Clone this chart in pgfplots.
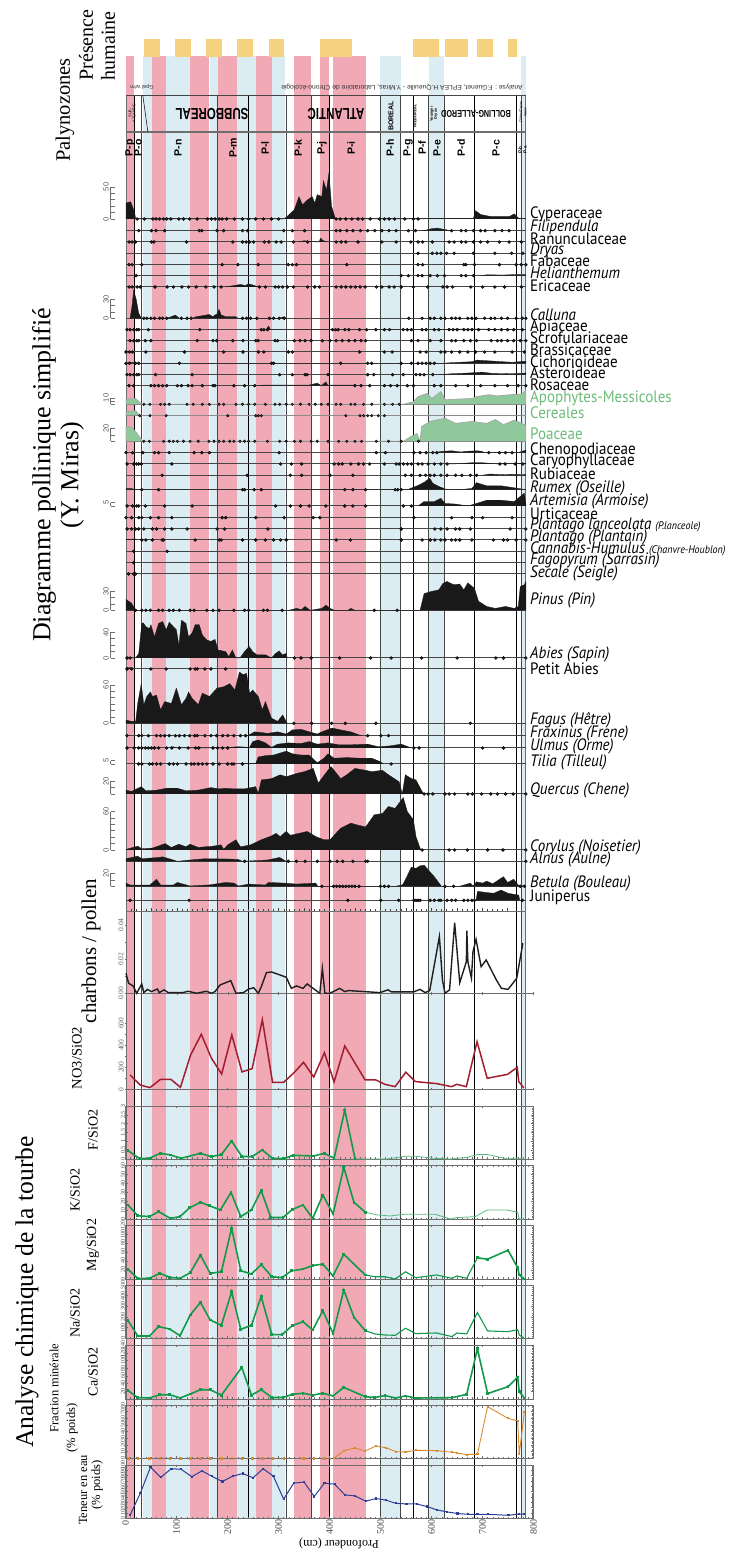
\documentclass[border=0pt]{standalone}
\usepackage{pgfplots}
\usepackage{fontspec}
\pgfplotsset{compat=1.18}
\setmainfont{Liberation Serif}
\newfontfamily\lab[FakeStretch=0.91]{PT Sans}
\newfontfamily\cnd[FakeStretch=0.72]{Liberation Sans}
\newfontfamily\hv{Liberation Sans}
\definecolor{pk}{HTML}{F0A9B5}
\definecolor{bl}{HTML}{DCECF3}
\definecolor{yl}{HTML}{F4D27F}
\definecolor{gr}{HTML}{8FC89B}
\definecolor{grt}{HTML}{6DBB79}
\definecolor{gc}{HTML}{129A4A}
\definecolor{rd}{HTML}{A21E2E}
\definecolor{og}{HTML}{D98A2E}
\definecolor{nv}{HTML}{2E3F97}
\definecolor{ln}{HTML}{454545}
\definecolor{fr}{HTML}{6E6E6E}
\pgfplotsset{
 pbase/.style={anchor=south west,width=407pt,height=64pt,scale only axis,xmin=0,xmax=800,ymin=0,ymax=100,hide axis,clip=false},
 chem/.style={anchor=south west,width=408pt,scale only axis,xmin=0,xmax=800,clip=false,
   axis line style={fr,line width=0.9pt},tick style={fr,line width=0.4pt},
   xtick={0,100,...,800},xticklabels={},minor x tick num=9,minor y tick num=4,
   major tick length=2.5pt,minor tick length=1.5pt,tick align=inside,
   yticklabel style={rotate=90,font=\fontsize{6}{6}\selectfont,inner sep=0.3pt,anchor=south,text=black!70},
   /pgf/number format/assume math mode=true,/pgf/number format/1000 sep={}},
 thick1/.style={gc,line width=1.6pt,mark=square*,mark size=0.6pt},
 thin1/.style={gc!70!white,line width=0.8pt}
}
\newcommand{\T}[4]{\node[inner sep=0pt,#3] at (#1pt,{(1552-#2)*1pt}) {#4};}
\newcommand{\band}[5]{\addplot[fill=#1,draw=none] coordinates {(#2,#4)(#3,#4)(#3,#5)(#2,#5)};}
\newcommand{\vl}[2]{\addplot[#2] coordinates {(#1,95)(#1,1518)};}
% Y0, area, dots
\newcommand{\pol}[3]{\pgfmathsetmacro\yy{1552-#1}
 \begin{axis}[pbase,at={(126pt,\yy pt)}]
 \addplot[ln,line width=1pt] coordinates {(0,0)(786,0)};
 \addplot[fill=black!90,draw=black!90,line width=0.3pt] coordinates {#2};
 \addplot[only marks,mark=*,mark size=1.5pt,mark options={fill=black!85,draw=none}] coordinates {#3};
 \end{axis}}
\newcommand{\pold}[2]{\pgfmathsetmacro\yy{1552-#1}
 \begin{axis}[pbase,at={(126pt,\yy pt)}]
 \addplot[ln,line width=1pt] coordinates {(0,0)(786,0)};
 \addplot[only marks,mark=*,mark size=1.5pt,mark options={fill=black!85,draw=none}] coordinates {#2};
 \end{axis}}
\newcommand{\polg}[3]{\pgfmathsetmacro\yy{1552-#1}
 \begin{axis}[pbase,at={(126pt,\yy pt)}]
 \addplot[fill=gr,draw=black!35,line width=0.7pt] coordinates {#2};
 \addplot[black!45,line width=1pt] coordinates {(0,0)(786,0)};
 \addplot[only marks,mark=*,mark size=1.3pt,mark options={fill=black!75,draw=none}] coordinates {#3};
 \end{axis}}
% scale: Y0,max,step,zero label
\newcommand{\sca}[4]{\pgfmathsetmacro\ya{1552-#1}\pgfmathsetmacro\yb{\ya+#2*0.64}
 \draw[fr,line width=0.6pt] (110.5pt,\ya pt)--(110.5pt,\yb pt);
 \foreach \v in {0,#3,...,#2}{\pgfmathsetmacro\yc{\ya+\v*0.64}\draw[fr,line width=0.6pt] (110.5pt,\yc pt)--(114.5pt,\yc pt);}
 \node[rotate=90,font=\fontsize{7.5}{7.5}\selectfont\hv,text=black!65,inner sep=0] at (106pt,\yb pt) {#2};
 \node[rotate=90,font=\fontsize{7.5}{7.5}\selectfont\hv,text=black!65,inner sep=0] at (106pt,\ya pt) {#4};}
\begin{document}
\begin{tikzpicture}
\useasboundingbox (0,0) rectangle (752pt,1552pt);
\begin{axis}[at={(126pt,0pt)},anchor=south west,width=407pt,height=1552pt,scale only axis,
 xmin=0,xmax=800,ymin=0,ymax=1552,y dir=reverse,hide axis,clip=false]
\band{pk}{0}{16}{56}{1518}
\band{bl}{33}{52}{56}{1518}
\band{pk}{52}{78}{56}{1518}
\band{bl}{78}{126}{56}{1518}
\band{pk}{126}{164}{56}{1518}
\band{bl}{165}{180}{56}{1518}
\band{pk}{180}{218}{56}{1518}
\band{bl}{219}{255}{56}{1518}
\band{pk}{255}{286}{56}{1518}
\band{bl}{286}{312}{56}{1518}
\band{pk}{330}{363}{56}{1518}
\band{pk}{381}{399}{56}{1518}
\band{pk}{407}{471}{56}{1518}
\band{bl}{500}{540}{56}{1518}
\band{bl}{595}{625}{56}{1518}
\band{bl}{776}{787}{56}{1518}
\band{yl}{35}{66}{39}{57}
\band{yl}{97}{128}{39}{57}
\band{yl}{157}{189}{39}{57}
\band{yl}{219}{250}{39}{57}
\band{yl}{281}{310}{39}{57}
\band{yl}{381}{444}{39}{57}
\band{yl}{565}{615}{39}{57}
\band{yl}{628}{673}{39}{57}
\band{yl}{690}{721}{39}{57}
\band{yl}{750}{769}{39}{57}
\vl{16}{black,line width=0.7pt}
\vl{31}{ln,line width=0.9pt}
\vl{180}{ln,line width=0.9pt}
\vl{240}{black,line width=0.7pt}
\vl{316}{ln,line width=0.9pt}
\vl{365}{ln,line width=0.9pt}
\vl{400}{black,line width=0.7pt}
\vl{500}{ln,line width=0.9pt}
\vl{540}{ln,line width=0.9pt}
\vl{565}{black,line width=0.7pt}
\vl{595}{ln,line width=0.9pt}
\vl{625}{ln,line width=0.9pt}
\vl{685}{black,line width=0.7pt}
\vl{768}{black,line width=0.7pt}
\vl{777}{ln,line width=0.8pt}
\vl{786}{fr,line width=1.1pt}
\vl{0}{fr,line width=1pt}
\addplot[ln,line width=0.9pt] coordinates {(0,95)(786,95)};
\addplot[fr,line width=1.2pt] coordinates {(0,132)(786,132)};
\addplot[black,line width=0.5pt] coordinates {(33,95)(43,132)};
\end{axis}
%% pollen
\pol{219}{(0,0)(0,25)(9,27)(17,10)(19,0)(310,0)(317,4)(331,15)(340,35)(347,22)(357,30)(366,35)(371,25)(376,38)(385,35)(388,60)(394,45)(399,72)(404,20)(411,2)(414,0)(585,0)(593,1)(683,1)(687,13)(697,7)(716,4)(754,4)(763,8)(772,1)(786,0)}{(22,0)(36,0)(53,0)(59,0)(66,0)(74,0)(80,0)(88,0)(104,0)(113,0)(125,0)(140,0)(160,0)(168,0)(175,0)(183,0)(189,0)(198,0)(213,0)(229,0)(241,0)(255,0)(270,0)(286,0)(300,0)(413,0)(421,0)(432,0)(444,0)(456,0)(465,0)(480,0)(498,0)(508,0)(517,0)(528,0)(548,0)(565,0)(574,0)}
\pol{230.7}{(580,0)(590,1)(600,3)(612,4)(625,2)(640,0)}{(25,0)(50,0)(59,0)(76,0)(144,0)(149,0)(179,0)(192,0)(229,0)(239,0)(310,0)(327,0)(351,0)(413,0)(421,0)(434,0)(446,0)(461,0)(475,0)(489,0)(503,0)(517,0)(531,0)(555,0)(569,0)(640,0)(659,0)(668,0)(683,0)(697,0)(706,0)(725,0)(739,0)(753,0)}
\pol{242}{(340,0)(350,2)(360,1)(375,0)(380,0)(382,6)(388,2)(395,0)}{(6,0)(12,0)(19,0)(50,0)(55,0)(119,0)(210,0)(229,0)(236,0)(243,0)(251,0)(272,0)(281,0)(295,0)(305,0)(329,0)(357,0)(413,0)(423,0)(432,0)(456,0)(503,0)(531,0)(560,0)(574,0)(583,0)(602,0)(635,0)(645,0)(659,0)(668,0)(683,0)(697,0)(711,0)(734,0)(753,0)(777,0)}
\pold{253.3}{(574,0)(602,0)(611,0)(619,0)(630,0)(645,0)(683,0)(725,0)(758,0)(780,0)}
\pold{264.7}{(6,0)(12,0)(31,0)(189,0)(220,0)(260,0)(319,0)(327,0)(335,0)(434,0)(574,0)(583,0)(664,0)(668,0)(685,0)(734,0)(767,0)(777,0)(786,0)}
\pol{275.7}{(697,0)(710,1.5)(740,1)(770,2)(786,1.5)(786,0)}{(20,0)(541,0)(555,0)(574,0)(582,0)(598,0)(612,0)(626,0)(659,0)(668,0)(683,0)}
\pol{287}{(195,0)(210,2)(225,4)(235,2)(240,5)(250,3)(260,0)}{(6,0)(12,0)(22,0)(28,0)(57,0)(81,0)(93,0)(110,0)(123,0)(138,0)(157,0)(173,0)(187,0)(262,0)(274,0)(293,0)(300,0)(308,0)(317,0)(329,0)(357,0)(371,0)(380,0)(413,0)(423,0)(432,0)(442,0)(451,0)(460,0)(470,0)(492,0)(503,0)(517,0)(527,0)(541,0)(565,0)(593,0)(623,0)(631,0)(642,0)(678,0)(701,0)(725,0)(744,0)(777,0)}
\pol{318.3}{(8,0)(12,20)(15,44)(20,30)(25,8)(30,0)(80,0)(89,2.5)(97,5)(105,0)(130,0)(138,2.5)(150,4)(164,6)(170,2.5)(179,7)(183,14)(187,5)(196,2.5)(216,2.5)(220,0)(300,0)(311,2.5)(315,0)}{(35,0)(41,0)(49,0)(56,0)(66,0)(72,0)(80,0)(109,0)(120,0)(128,0)(229,0)(237,0)(245,0)(257,0)(282,0)(290,0)(301,0)(311,0)(556,0)(582,0)(598,0)(606,0)(619,0)(627,0)(640,0)(648,0)(656,0)(672,0)(680,0)(688,0)(705,0)(717,0)(725,0)(738,0)(750,0)(767,0)(779,0)(786,0)}
\pol{329.7}{(276,0)(280,6)(284,0)(606,0)(640,1)(700,1)(786,0)}{(2,0)(8,0)(15,0)(21,0)(25,0)(44,0)(145,0)(266,0)(271,0)(278,0)(406,0)(412,0)(417,0)(430,0)(438,0)(459,0)(473,0)(491,0)(508,0)(518,0)(545,0)(553,0)(561,0)(582,0)(590,0)(606,0)(615,0)(635,0)(643,0)(651,0)(664,0)(672,0)(680,0)(693,0)(713,0)(725,0)(738,0)(750,0)(762,0)(779,0)}
\pold{340.7}{(8,0)(15,0)(21,0)(25,0)(38,0)(49,0)(140,0)(171,0)(178,0)(210,0)(230,0)(255,0)(260,0)(293,0)(298,0)(331,0)(342,0)(352,0)(364,0)(386,0)(401,0)(413,0)(425,0)(438,0)(450,0)(462,0)(471,0)(561,0)(574,0)(598,0)(619,0)(640,0)(648,0)(664,0)(677,0)(689,0)(718,0)(730,0)(738,0)(750,0)(762,0)(775,0)(786,0)}
\pold{352}{(0,0)(7,0)(13,0)(39,0)(115,0)(192,0)(230,0)(260,0)(271,0)(319,0)(327,0)(459,0)(508,0)(523,0)(578,0)(590,0)(619,0)(627,0)(640,0)(656,0)(672,0)(687,0)(705,0)(725,0)(759,0)(783,0)}
\pol{363.3}{(0,0)(5,1)(15,1)(20,0)(620,0)(640,1)(680,2.5)(690,5)(710,4)(740,2.5)(760,1.5)(780,3)(786,3)(786,0)}{(0,0)(7,0)(19,0)(25,0)(105,0)(286,0)(290,0)(422,0)(475,0)(483,0)(541,0)(561,0)(574,0)(582,0)(590,0)(598,0)(606,0)}
\pol{374.7}{(615,0)(640,1.5)(670,2.5)(700,4)(720,2)(760,1.5)(786,2.5)(786,0)}{(2,0)(8,0)(15,0)(21,0)(25,0)(58,0)(130,0)(302,0)(327,0)(352,0)(356,0)(397,0)(475,0)(487,0)(524,0)(545,0)(570,0)(578,0)(586,0)(603,0)}
\pol{385.7}{(260,0)(270,1)(340,1)(360,1)(376,4)(384,0)(393,6)(397,0)(400,1)(450,1)(455,0)}{(6,0)(15,0)(49,0)(56,0)(64,0)(72,0)(80,0)(101,0)(109,0)(122,0)(130,0)(150,0)(171,0)(175,0)(212,0)(233,0)(253,0)(450,0)(462,0)(479,0)(508,0)(520,0)(533,0)(553,0)(565,0)(606,0)(619,0)(648,0)(672,0)(697,0)(725,0)(750,0)(771,0)(786,0)}
\polg{404.3}{(0,0)(0,8)(19,9)(31,0)(545,0)(565,4)(574,12)(592,17)(601,9)(619,20)(627,7)(648,8)(680,9)(689,12)(713,15)(730,13)(755,15)(779,16)(786,22)(786,0)}{(35,0)(47,0)(68,0)(76,0)(85,0)(120,0)(132,0)(150,0)(164,0)(183,0)(192,0)(216,0)(229,0)(241,0)(253,0)(274,0)(293,0)(302,0)(315,0)(327,0)(343,0)(360,0)(372,0)(384,0)(397,0)(413,0)(422,0)(442,0)(450,0)(467,0)(483,0)(508,0)(524,0)(537,0)}
\polg{415.7}{(0,0)(0,6)(19,8)(27,0)}{(27,0)(47,0)(79,0)(200,0)(255,0)(260,0)(266,0)(432,0)(460,0)(467,0)(475,0)(483,0)(496,0)(508,0)}
\polg{441.3}{(0,0)(0,23)(11,22)(19,15)(31,2)(35,0)(545,0)(561,8)(572,12)(578,0)(581,23)(598,31)(627,36)(648,28)(680,31)(709,28)(726,34)(742,26)(763,33)(786,25)(786,0)}{(35,0)(46,0)(74,0)(85,0)(93,0)(101,0)(113,0)(126,0)(142,0)(163,0)(173,0)(183,0)(192,0)(204,0)(212,0)(224,0)(233,0)(241,0)(253,0)(278,0)(302,0)(315,0)(331,0)(343,0)(364,0)(376,0)(397,0)(418,0)(434,0)(450,0)(463,0)(492,0)(516,0)(541,0)(575,0)}
\pol{452.7}{(606,0)(620,2)(640,3)(660,1)(665,2)(690,3)(700,2)(705,0)(770,0)(786,4)(786,0)}{(0,0)(13,0)(33,0)(56,0)(64,0)(85,0)(134,0)(149,0)(164,0)(301,0)(492,0)(510,0)(566,0)(578,0)(590,0)(603,0)(611,0)(713,0)(734,0)(746,0)(759,0)}
\pol{464}{(631,0)(645,0)(680,2)(700,2)(730,0)(786,1)(786,0)}{(2,0)(15,0)(21,0)(25,0)(30,0)(90,0)(304,0)(325,0)(345,0)(409,0)(418,0)(425,0)(442,0)(457,0)(467,0)(479,0)(508,0)(531,0)(537,0)(545,0)(553,0)(561,0)(574,0)(582,0)(594,0)(606,0)(619,0)(631,0)(735,0)(745,0)(765,0)(780,0)}
\pol{475.3}{(700,0)(715,2)(740,1)(760,1.5)(785,1)(786,0)}{(71,0)(238,0)(323,0)(345,0)(401,0)(446,0)(549,0)(561,0)(578,0)(589,0)(598,0)(606,0)(619,0)(631,0)(648,0)(660,0)(677,0)(689,0)}
\pol{489.7}{(0,0)(0,2)(10,2)(19,0)(553,0)(575,7)(587,12)(597,18)(603,10)(615,5)(631,0)(656,0)(680,2)(689,11)(709,6)(738,6)(771,2)(786,0)}{(31,0)(64,0)(229,0)(233,0)(252,0)(266,0)(430,0)(446,0)(471,0)(529,0)(534,0)(541,0)}
\pol{506}{(574,0)(586,7)(606,7)(619,12)(627,4)(648,3)(672,0)(689,4)(709,9)(738,9)(763,7)(775,15)(783,20)(786,4)(786,0)}{(2,0)(13,0)(21,0)(25,0)(38,0)(76,0)(130,0)(294,0)(323,0)(343,0)(360,0)(393,0)(430,0)(446,0)(471,0)(545,0)(561,0)}
\pold{517.7}{(0,0)(11,0)(25,0)(31,0)(48,0)(64,0)(90,0)(189,0)(196,0)(255,0)(311,0)(368,0)(381,0)(566,0)(640,0)(680,0)(701,0)(759,0)}
\pold{529}{(2,0)(11,0)(19,0)(25,0)(35,0)(52,0)(60,0)(76,0)(90,0)(120,0)(179,0)(194,0)(279,0)(541,0)(607,0)(619,0)(631,0)(648,0)(656,0)(677,0)(755,0)(786,0)}
\pol{540}{(0,0)(0,1)(20,1.5)(22,0)}{(31,0)(39,0)(52,0)(71,0)(74,0)(136,0)(183,0)(187,0)(229,0)(255,0)(274,0)(290,0)(304,0)(315,0)(413,0)(441,0)(541,0)(582,0)(598,0)(607,0)(619,0)(627,0)(640,0)(648,0)(656,0)(680,0)(722,0)(742,0)(750,0)(767,0)(786,0)}
\pold{551.3}{(15,0)(81,0)}
\pold{562.7}{(15,0)}
\pold{574}{(5,0)(15,0)(19,0)}
\pol{610.3}{(0,0)(0,17)(11,11)(19,0)(320,0)(335,3)(345,1)(352,6)(362,0)(385,3)(393,8)(401,3)(410,0)(436,0)(442,3)(450,0)(570,0)(578,0)(586,26)(598,29)(615,32)(623,42)(631,45)(644,40)(656,41)(664,32)(672,43)(685,34)(693,14)(709,6)(726,3)(746,6)(763,3)(771,6)(775,37)(783,40)(786,45)(786,0)}{(19,0)(31,0)(39,0)(48,0)(64,0)(72,0)(85,0)(93,0)(105,0)(126,0)(134,0)(159,0)(171,0)(183,0)(212,0)(233,0)(241,0)(270,0)(278,0)(307,0)(488,0)(533,0)}
\pol{658}{(0,0)(19,0)(25,7)(31,54)(34,55)(39,49)(46,46)(49,52)(56,33)(64,54)(72,57)(79,44)(85,56)(93,49)(99,44)(104,20)(109,59)(118,54)(123,33)(130,39)(136,52)(144,52)(150,36)(159,28)(167,26)(175,29)(181,12.5)(196,10)(202,2)(209,12.5)(216,0)(224,0)(233,10)(242,18)(249,10)(257,5)(274,5)(286,0)(294,7)(301,11)(307,5)(315,7)(317,0)}{(2,0)(8,0)(331,0)(344,0)(364,0)(420,0)(481,0)(521,0)(581,0)(651,0)(727,0)(742,0)(786,0)}
\pol{669}{(0,0)(0,2)(12,2)(14,0)}{(2,0)(11,0)(49,0)(79,0)(126,0)(136,0)(140,0)(155,0)(167,0)(196,0)}
\pol{723.3}{(0,0)(0,5)(11,3)(19,3)(23,31)(30,62)(35,29)(41,42)(48,49)(52,42)(60,44)(68,21)(76,34)(89,31)(99,55)(109,29)(118,39)(123,49)(130,39)(142,29)(150,47)(164,42)(179,55)(192,57)(204,62)(214,52)(223,80)(230,76)(237,78)(243,47)(249,52)(260,42)(268,21)(274,34)(286,8)(298,3)(308,13)(316,1)(318,0)}{(330,0)(365,0)(404,0)(431,0)(491,0)(677,0)}
\pol{735.7}{(235,0)(241,1)(253,6)(266,5)(278,3.6)(298,6)(315,2.6)(327,9)(344,10)(356,7)(376,2.6)(385,6)(405,12)(422,9)(442,6)(459,1)(465,0)}{(2,0)(25,0)(31,0)(44,0)(60,0)(68,0)(76,0)(85,0)(97,0)(105,0)(115,0)(125,0)(135,0)(140,0)(155,0)(167,0)(178,0)(190,0)(200,0)(212,0)(225,0)(235,0)(475,0)(501,0)(516,0)}
\pol{748}{(88,0)(93,2)(100,0)(200,0)(204,1)(220,2)(243,1)(249,10)(260,12.5)(274,8)(286,1)(298,6)(319,8)(344,7)(360,10)(376,6)(397,8)(418,5)(442,5)(475,6)(496,2)(516,3)(541,6)(561,0)}{(2,0)(16,0)(25,0)(31,0)(38,0)(44,0)(50,0)(56,0)(64,0)(80,0)(90,0)(105,0)(122,0)(137,0)(143,0)(171,0)(180,0)(190,0)(200,0)(566,0)(576,0)(701,0)(742,0)}
\pol{764}{(225,0)(229,1)(255,1)(260,11)(274,13)(290,14)(315,20)(327,16)(344,14)(360,14)(376,2)(389,9)(397,16)(409,9)(434,10)(459,9)(483,9)(500,3.6)(506,0)}{(25,0)(31,0)(46,0)(52,0)(60,0)(68,0)(85,0)(93,0)(101,0)(118,0)(128,0)(134,0)(142,0)(150,0)(159,0)(171,0)(183,0)(200,0)(208,0)(212,0)(229,0)(521,0)}
\pol{794}{(0,0)(0,6)(11,4)(30,11.5)(39,5)(60,6)(80,9)(101,9)(118,5)(142,6)(167,10)(183,8)(196,9)(212,8)(233,8)(255,11.5)(260,1)(266,22)(286,24)(303,30)(315,27)(335,32)(351,35)(368,40)(378,17)(392,32)(403,43)(422,24)(434,30)(450,40)(471,37)(483,35)(504,37)(516,30)(537,19)(543,0)(549,30)(561,24)(570,22)(582,4)(586,0)}{(586,0)(594,0)(603,0)(627,0)(635,0)(646,0)(672,0)(681,0)(699,0)(717,0)(730,0)(746,0)(761,0)(786,0)}
\pol{850}{(0,0)(0,1)(23,6)(31,2)(52,3)(77,10)(89,4)(104,9)(118,5)(126,9)(142,4)(171,6)(187,8)(192,1)(200,8)(216,16)(225,5)(245,8)(266,16)(286,22)(295,26)(303,21)(315,29)(323,23)(340,26)(356,29)(373,21)(389,16)(401,16)(422,34)(442,42)(455,39)(471,36)(488,55)(504,57)(516,68)(529,65)(545,82)(553,60)(565,47)(570,21)(578,3)(580,0)}{(582,0)(635,0)(646,0)(671,0)(711,0)(741,0)(786,0)}
\pol{861.3}{(0,0)(0,4)(23,8)(31,4)(64,6)(72,7)(89,3)(101,0)(126,2)(155,4)(196,3.6)(220,3)(229,0)(278,2)(302,6)(315,0)}{(233,0)(319,0)(335,0)(352,0)(376,0)(401,0)(415,0)(426,0)(446,0)(471,0)(475,0)(786,0)}
\pol{886.3}{(0,0)(0,5)(8,2)(31,2)(47,2)(60,11)(68,2)(93,2)(101,6)(126,0.5)(146,1.5)(162,2)(196,6)(212,5)(221,0.5)(241,3.5)(274,2)(280,6)(311,5)(335,3.5)(373,5)(377,0)(530,0)(544,2.5)(552,15)(561,30)(570,28)(578,32)(586,33)(606,15)(620,0)(655,0)(664,2)(677,5)(682,0.5)(689,7)(701,5)(709,8)(721,4)(742,15)(750,6)(762,11)(771,2)(786,0)}{(385,0)(408,0)(414,0)(420,0)(426,0)(432,0)(438,0)(444,0)(450,0)(458,0)(500,0)(508,0)(516,0)(627,0)(644,0)(775,0)(783,0)}
\pol{900.3}{(688,0)(691,14)(710,12)(723,11)(737,16)(751,11)(772,8)(774,0)}{(8,0)(124,0)(436,0)(501,0)(536,0)(566,0)(570,0)(574,0)(578,0)(598,0)(606,0)(615,0)(619,0)(631,0)(640,0)(648,0)(664,0)(672,0)(680,0)(685,0)(779,0)}
%% pollen scales
\sca{219}{50}{10}{0}
\sca{318.3}{30}{10}{0}
\sca{404.3}{10}{5}{}
\sca{441.3}{20}{10}{}
\sca{506}{5}{5}{}
\sca{610.3}{30}{10}{0}
\sca{658}{40}{10}{0}
\sca{723.3}{60}{10}{0}
\sca{764}{5}{5}{}
\sca{794}{20}{10}{}
\sca{850}{60}{10}{0}
\sca{886.3}{20}{10}{}
%% ruler
\begin{axis}[at={(126pt,640pt)},anchor=south west,width=400pt,height=10pt,scale only axis,
 xmin=0,xmax=786,ymin=0,ymax=1,axis x line=bottom,axis y line=none,xtick={0,50,...,750},minor x tick num=4,
 xticklabels={},tick align=inside,major tick length=4pt,minor tick length=2.5pt,
 axis line style={-,fr,line width=1pt},tick style={ln,line width=0.4pt}]
\end{axis}
%% charbons
\begin{axis}[at={(126pt,558.7pt)},anchor=south west,width=407pt,height=85.4pt,scale only axis,
 xmin=0,xmax=800,ymin=0,ymax=0.05,clip=false,axis x line=bottom,axis y line=left,
 axis line style={-,fr,line width=0.9pt},tick style={fr,line width=0.4pt},major tick length=2.5pt,
 xtick={0,100,...,800},xticklabels={},ytick={0,0.02,0.04},minor y tick num=1,
 yticklabel style={rotate=90,font=\fontsize{7.5}{7.5}\selectfont,anchor=south,text=black!60,inner sep=1pt,/pgf/number format/fixed,/pgf/number format/fixed zerofill,/pgf/number format/precision=2},
 scaled y ticks=false,/pgf/number format/assume math mode=true]
\addplot[black!88,line width=1.4pt] coordinates {(0,.0117)(5,.0059)(14,.0043)(21,0)(31,.0055)(35,.0004)(42,.0023)(50,.001)(62,.0025)(65,.0004)(75,.002)(83,.0004)(112,.0004)(122,.0012)(139,0)(158,.0012)(168,0)(175,.001)(185,.0049)(206,.0074)(216,0)(231,.0004)(240,.0023)(251,.0033)(260,0)(266,.0039)(276,.0121)(286,.0125)(315,.0094)(325,.0029)(335,.0043)(348,.0029)(356,.0055)(381,0)(386,.0146)(391,0)(401,0)(420,.0029)(430,.001)(437,.0016)(499,.0004)(515,.002)(522,.0008)(565,.0008)(578,.0023)(588,.0004)(597,.0016)(616,.0332)(622,.0078)(627,0)(636,.002)(646,.0413)(656,.0062)(669,.0185)(670,.0367)(672,.0185)(679,.0088)(682,.0244)(688,.0316)(698,.0156)(708,.0195)(728,.0078)(738,.0029)(751,.0023)(768,.0088)(780,.0293)};
\end{axis}
%% NO3
\begin{axis}[at={(126pt,462.7pt)},anchor=south west,width=407pt,height=75pt,scale only axis,
 xmin=0,xmax=800,ymin=0,ymax=682,clip=false,axis x line=bottom,axis y line=left,
 axis line style={-,fr,line width=0.9pt},tick style={fr,line width=0.6pt},major tick length=2pt,
 xtick={0,100,...,800},xticklabels={},ytick={0,200,400,600},minor y tick num=1,
 yticklabel style={rotate=90,font=\fontsize{7.5}{7.5}\selectfont,anchor=south,text=black!60,inner sep=1pt},
 /pgf/number format/assume math mode=true]
\addplot[rd,line width=1.5pt] coordinates {(8,130)(28,39)(47,15)(68,91)(88,91)(107,18)(127,312)(148,500)(168,282)(188,139)(208,494)(228,158)(248,188)(268,633)(288,64)(310,64)(329,145)(349,245)(369,112)(390,333)(409,67)(430,394)(470,85)(491,85)(509,45)(529,24)(550,155)(569,70)(610,52)(640,24)(650,45)(669,24)(690,433)(710,100)(750,136)(769,200)(772,70)(782,12)};
\end{axis}
%% chem
\begin{axis}[chem,at={(125.5pt,393pt)},height=53pt,ymin=0,ymax=3,ytick={0,0.5,...,3}]
\addplot[thin1] coordinates {(450,.02)(473,0)(512,0)(548,.15)(571,.15)(604,.04)(637,0)(669,.09)(690,.25)(710,.25)(750,0)(769,.06)(782,0)};
\addplot[thick1] coordinates {(5,.47)(28,.02)(47,.04)(68,.32)(88,.23)(109,.04)(147,.32)(168,.13)(188,.25)(208,1.02)(228,.15)(248,.13)(268,.51)(288,.04)(310,.02)(329,.21)(369,.17)(390,.32)(409,.04)(430,2.77)(450,.02)};
\end{axis}
\begin{axis}[chem,at={(125.5pt,332.7pt)},height=53.6pt,ymin=0,ymax=60,ytick={0,10,...,60}]
\addplot[thin1] coordinates {(470,8)(492,5)(519,3.7)(545,5.6)(607,5.6)(637,.4)(650,1.9)(686,3)(709,10.4)(748,10.4)(769,7.8)(772,.4)(782,0)};
\addplot[thick1] coordinates {(5,16)(24,4)(47,3)(65,8.6)(88,1)(107,3)(126,13)(147,19)(165,15)(186,10.5)(207,30)(226,3)(247,10.5)(266,32)(285,2)(309,2)(327,11)(348,16)(367,1)(387,27)(407,6)(428,58)(448,19)(470,8)};
\end{axis}
\begin{axis}[chem,at={(125.5pt,273pt)},height=54pt,ymin=0,ymax=120,ytick={0,20,...,120}]
\addplot[gc,line width=1.1pt] coordinates {(470,9)(489,5)(509,5)(529,0)(549,16)(569,3)(610,9)(640,1.5)(650,6.7)(669,1.5)(690,47)};
\addplot[thick1] coordinates {(5,21.5)(24,1.5)(47,1.5)(67,12.6)(87,3.7)(107,1.5)(127,14)(147,53)(166,12.6)(188,16)(208,113)(226,18.5)(247,11)(266,32)(287,5)(307,3)(325,18)(348,22)(367,30)(387,33)(407,7)(428,55)(470,9)};
\addplot[thick1] coordinates {(690,47)(710,44)(750,64)(769,25)(772,9)(782,0)};
\end{axis}
\begin{axis}[chem,at={(125.5pt,213.7pt)},height=53.3pt,ymin=0,ymax=500,ytick={0,100,...,500}]
\addplot[gc,line width=1.1pt] coordinates {(470,72)(489,41)(509,31)(529,28)(549,94)(569,44)(610,50)(640,16)(650,50)(669,41)(690,241)(710,69)(750,62)(769,81)(772,31)(782,0)};
\addplot[thick1] coordinates {(5,166)(24,22)(47,22)(65,109)(86,88)(107,25)(127,219)(147,337)(166,172)(188,122)(208,437)(226,84)(247,122)(266,391)(287,34)(307,34)(327,119)(348,156)(367,78)(387,259)(407,44)(428,453)(448,197)(470,72)};
\end{axis}
\begin{axis}[chem,at={(125.5pt,153pt)},height=54pt,ymin=0,ymax=140,ytick={20,40,...,140}]
\addplot[thick1] coordinates {(5,22)(24,3.5)(47,2.6)(67,11)(87,11)(107,2.6)(127,13)(147,24)(166,24)(188,10)(228,82)(247,10)(266,24)(287,4)(309,4)(327,12)(348,15)(367,10)(387,15)(407,8)(428,30)(470,6)(489,4)(509,9)(529,2.6)(549,8)(569,2.6)(640,3.5)(669,12)(690,130)(710,14)(750,32)(769,57)(772,19)(782,2.6)};
\end{axis}
\begin{axis}[chem,at={(125.5pt,93.7pt)},height=53.3pt,ymin=0,ymax=80,ytick={0,10,...,80}]
\addplot[only marks,mark=square*,mark size=0.8pt,og] coordinates {(5,0)(24,0)(47,0)(67,0)(87,0)(107,0)(127,0)(147,0)(166,0)(188,0)(208,0)(228,0)(248,0)(268,0)(288,0)(310,0)(349,0)(369,0)(390,0)};
\addplot[og,line width=0.9pt,mark=square*,mark size=0.6pt] coordinates {(409,0)(428,11.5)(450,15.5)(470,11)(491,18.5)(510,16)(530,10)(549,9.5)(569,12)(610,11.5)(640,9)(650,8)(669,5.5)(690,6)(710,77.5)(750,60)(769,56)(772,6)(782,69)};
\end{axis}
\begin{axis}[chem,at={(125.5pt,33.7pt)},height=53.3pt,ymin=0,ymax=100,ytick={0,10,...,100},xticklabels={0,100,200,300,400,500,600,700,800},
 xticklabel style={rotate=90,anchor=east,font=\fontsize{10}{10}\selectfont,text=black!70,inner sep=1.5pt}]
\addplot[nv,line width=1pt,mark=square*,mark size=0.6pt] coordinates {(9,6)(29,47)(49,96)(69,77)(90,93)(109,92)(130,78)(150,89)(169,79)(190,69)(210,79)(230,84)(250,76)(270,93)(290,79)(310,36)(330,66)(350,68)(370,41)(390,66)(410,64)(430,44)(450,42)(471,32)(491,37)(511,34)(530,28)(551,27)(571,27)(591,22)(610,16)(630,12)(651,9)(671,7.5)(690,7.5)(711,7.5)(751,5.6)(771,8)(782,8)};
\end{axis}
%% labels right
\def\L#1#2{\T{530}{#1}{anchor=west,font=\fontsize{16.5}{16.5}\selectfont\lab}{#2}}
\L{214}{Cyperaceae}
\L{227}{\itshape Filipendula}
\L{239}{Ranunculaceae}
\L{250}{\itshape Dryas}
\L{261}{Fabaceae}
\L{273}{\itshape Helianthemum}
\L{286}{Ericaceae}
\L{315}{\itshape Calluna}
\L{327}{Apiaceae}
\L{338}{Scrofulariaceae}
\L{350}{Brassicaceae}
\L{362}{Cichorioideae}
\L{373}{Asteroideae}
\L{385}{Rosaceae}
\L{398}{\color{grt}Apophytes-Messicoles}
\L{413}{\color{grt}Cereales}
\L{434}{\color{grt}Poaceae}
\L{450}{Chenopodiaceae}
\L{461}{Caryophyllaceae}
\L{474}{Rubiaceae}
\L{488}{\itshape Rumex (Oseille)}
\L{501}{\itshape Artemisia (Armoise)}
\L{514}{Urticaceae}
\L{525}{\itshape Plantago lanceolata {\fontsize{11}{11}\selectfont (P.lanceole)}}
\L{537}{\itshape Plantago (Plantain)}
\L{549}{\itshape Cannabis-Humulus {\fontsize{11}{11}\selectfont (Chanvre-Houblon)}}
\L{560}{\itshape Fagopyrum (Sarrasin)}
\L{573}{\itshape Secale (Seigle)}
\L{600}{\itshape Pinus (Pin)}
\L{654}{\itshape Abies (Sapin)}
\L{669}{Petit Abies}
\L{720}{\itshape Fagus (Hêtre)}
\L{733}{\itshape Fraxinus (Frene)}
\L{746}{\itshape Ulmus (Orme)}
\L{762}{\itshape Tilia (Tilleul)}
\L{790}{\itshape Quercus (Chene)}
\L{847}{\itshape Corylus (Noisetier)}
\L{859}{\itshape Alnus (Aulne)}
\L{883}{\itshape Betula (Bouleau)}
\L{897}{Juniperus}
%% zones
\def\Z#1#2{\T{#1}{148}{rotate=90,font=\fontsize{10.5}{10.5}\selectfont\hv\bfseries}{#2}}
\Z{130}{P-p}\Z{138}{P-o}\Z{178}{P-n}\Z{233}{P-m}\Z{265}{P-l}\Z{298}{P-k}\Z{322}{P-j}\Z{351}{P-i}\Z{390}{P-h}\Z{408}{P-g}\Z{422}{P-f}\Z{437}{P-e}\Z{461}{P-d}\Z{496}{P-c}
\T{520}{150}{rotate=90,font=\fontsize{4.5}{4.5}\selectfont\hv\bfseries}{P-b}
\T{525}{150}{rotate=90,font=\fontsize{4.5}{4.5}\selectfont\hv\bfseries}{P-a}
\T{212}{114}{rotate=180,font=\fontsize{16}{16}\selectfont\cnd\bfseries}{SUBBOREAL}
\T{336}{114}{rotate=180,font=\fontsize{16}{16}\selectfont\cnd\bfseries}{ATLANTIC}
\T{476}{114}{rotate=180,font=\fontsize{10}{10}\selectfont\cnd\bfseries}{BOLLING-ALLEROD}
\T{391}{116}{rotate=90,font=\fontsize{7}{7}\selectfont\hv\bfseries}{BOREAL}
\T{415}{116}{rotate=90,font=\fontsize{3.8}{3.8}\selectfont\hv\bfseries}{PREBOREAL}
\T{434}{114}{rotate=90,font=\fontsize{3.8}{4}\selectfont\hv\bfseries,align=center}{Younger\\Dryas}
\T{132}{113}{rotate=90,font=\fontsize{3.8}{4}\selectfont\hv,align=center}{SUB-\\ATLANTIC}
\T{521}{112}{rotate=90,font=\fontsize{3.5}{3.8}\selectfont\hv,align=center}{Oldest Dryas}
\T{525.5}{112}{rotate=90,font=\fontsize{3.5}{3.8}\selectfont\hv,align=center}{Würm}
\T{402}{87}{rotate=180,font=\fontsize{6.7}{6.7}\selectfont\hv,text=black!80}{Analyse : F.Guenet, EPLEA H.Queuille - Y.Miras, Laboratoire de Chrono-écologie}
\T{142}{87}{rotate=180,font=\fontsize{5.5}{5.5}\selectfont\hv,text=black!80}{Gpal w/m}
%% left labels
\T{86}{45}{rotate=90,font=\fontsize{20}{20}\selectfont}{Présence}
\T{108}{46}{rotate=90,font=\fontsize{20}{20}\selectfont}{humaine}
\T{65}{110}{rotate=90,font=\fontsize{20.5}{20.5}\selectfont}{Palynozones}
\T{44}{475}{rotate=90,font=\fontsize{26}{26}\selectfont}{Diagramme pollinique simplifié}
\T{72}{475}{rotate=90,font=\fontsize{26}{26}\selectfont}{(Y. Miras)}
\T{91}{951}{rotate=90,font=\fontsize{21}{21}\selectfont}{charbons / pollen}
\T{77}{1058}{rotate=90,font=\fontsize{14.5}{14.5}\selectfont}{NO3/SiO2}
\T{93}{1130}{rotate=90,font=\fontsize{14}{14}\selectfont}{F/SiO2}
\T{75}{1190}{rotate=90,font=\fontsize{14}{14}\selectfont}{K/SiO2}
\T{93}{1245}{rotate=90,font=\fontsize{14}{14}\selectfont}{Mg/SiO2}
\T{75}{1313}{rotate=90,font=\fontsize{14}{14}\selectfont}{Na/SiO2}
\T{93}{1372}{rotate=90,font=\fontsize{14}{14}\selectfont}{Ca/SiO2}
\T{54}{1388}{rotate=90,font=\fontsize{12.5}{12.5}\selectfont}{Fraction minérale}
\T{72}{1428}{rotate=90,font=\fontsize{12.5}{12.5}\selectfont}{(\% poids)}
\T{83}{1490}{rotate=90,font=\fontsize{12.5}{12.5}\selectfont}{Teneur en eau}
\T{97}{1485}{rotate=90,font=\fontsize{12.5}{12.5}\selectfont}{(\% poids)}
\T{27}{1292}{rotate=90,font=\fontsize{25.5}{25.5}\selectfont}{Analyse chimique de la tourbe}
\T{339}{1543}{rotate=180,font=\fontsize{12}{12}\selectfont}{Profondeur (cm)}
\end{tikzpicture}
\end{document}
